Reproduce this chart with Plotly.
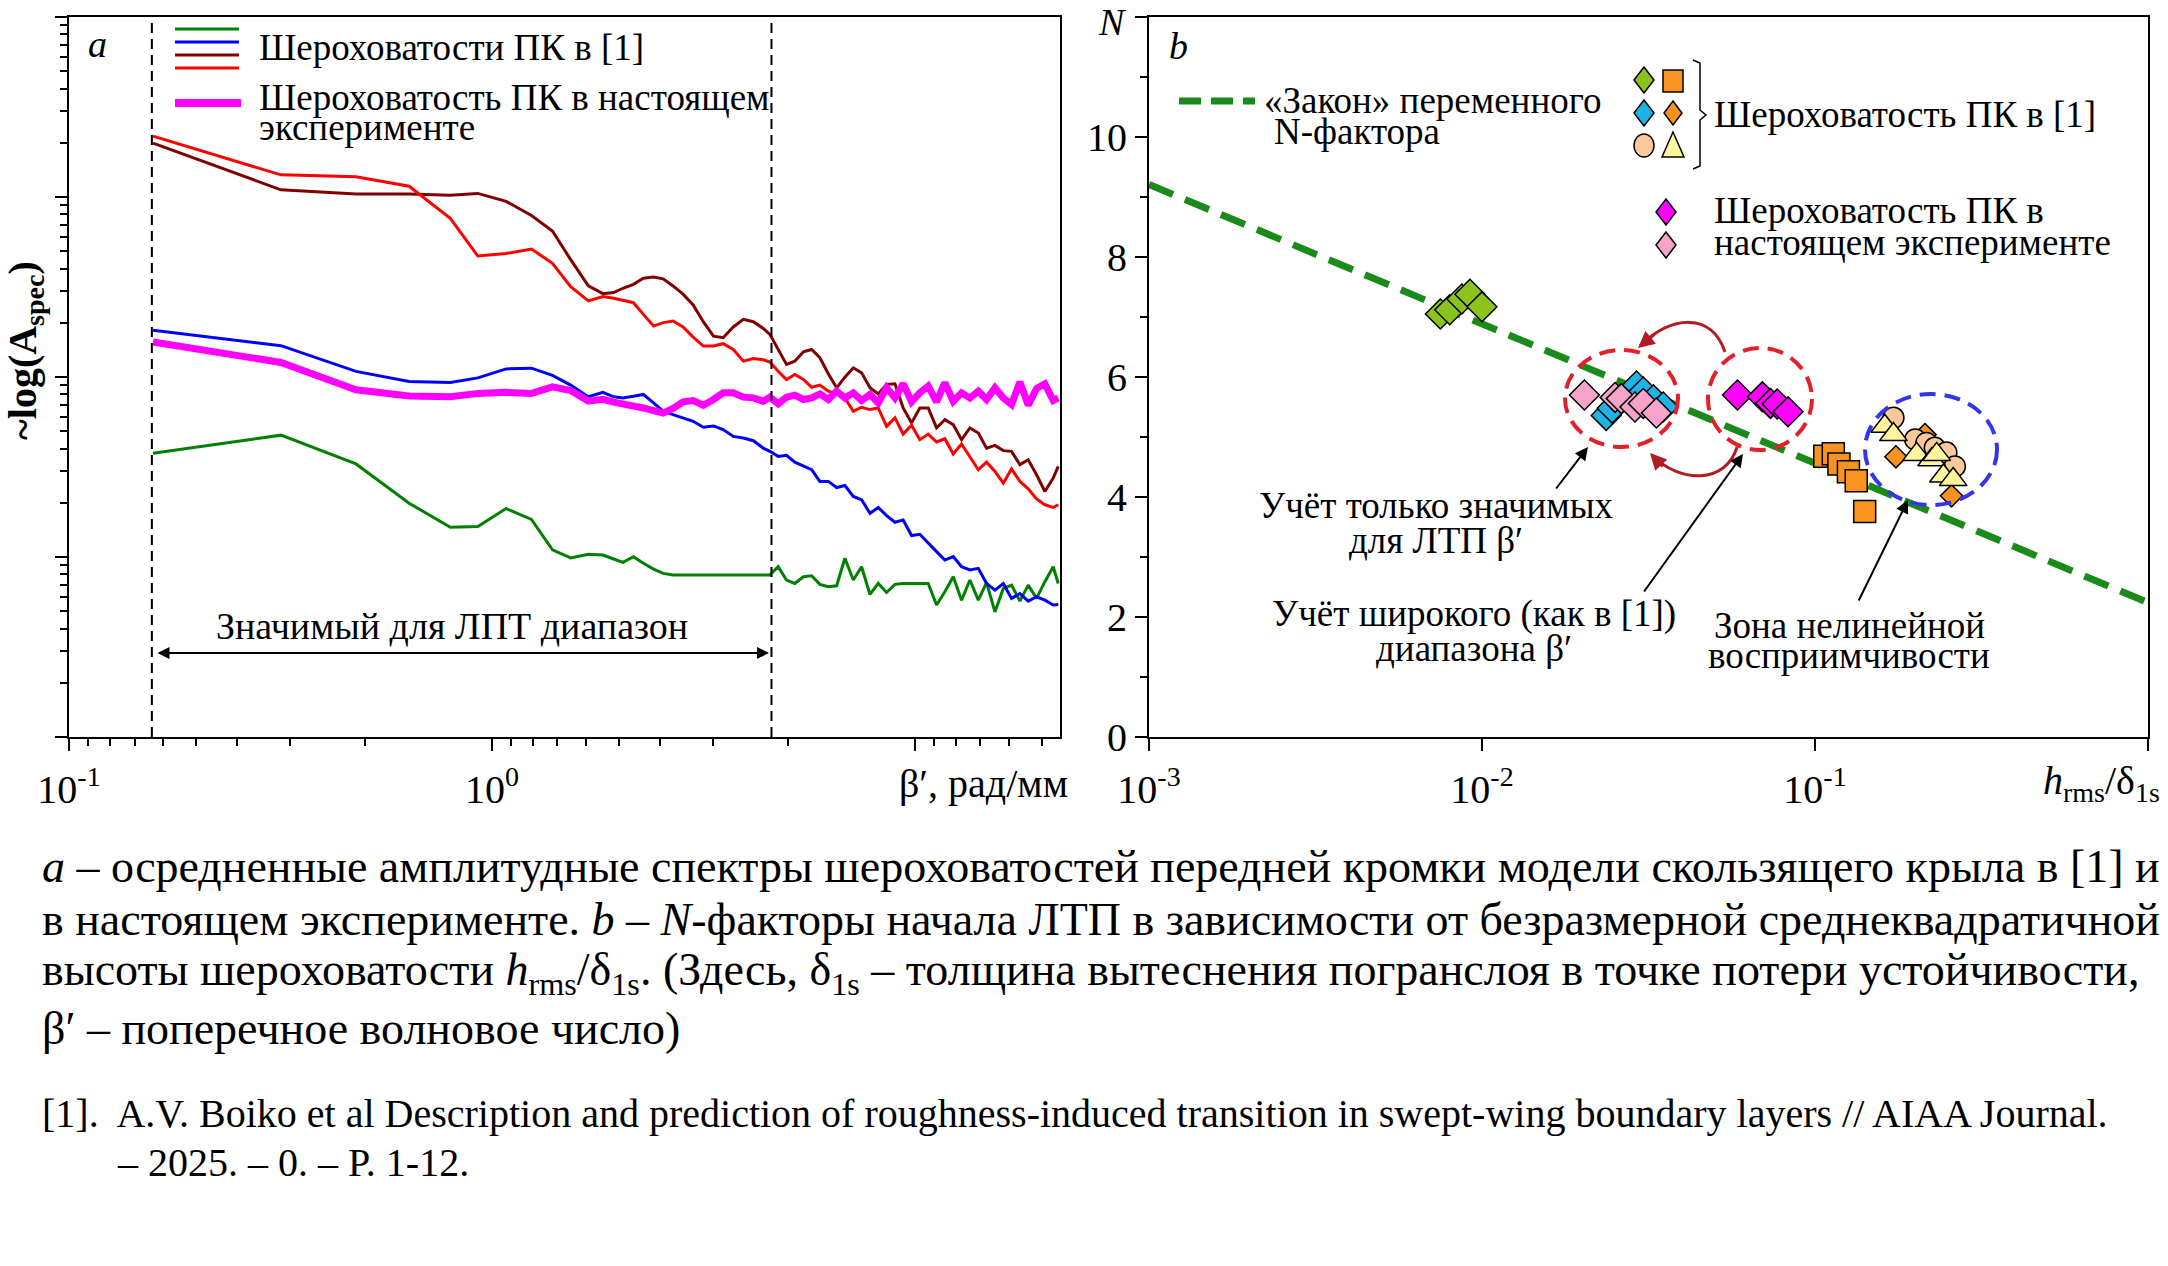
import plotly.graph_objects as go

W, H = 2168, 1266
FONT = "Liberation Serif"

# ---------- panel a: averaged amplitude spectra (lg of amplitude, arb. units) ----------
beta = [0.158, 0.317, 0.477, 0.637, 0.797, 0.926, 1.08, 1.24, 1.39, 1.535, 1.69, 1.83,
        1.94, 2.04, 2.16, 2.28, 2.41, 2.54, 2.68, 2.83, 2.99, 3.16, 3.34, 3.52, 3.72, 3.93,
        4.15, 4.38, 4.54,
        4.75, 4.97, 5.20, 5.45, 5.70, 5.96, 6.24, 6.53, 6.83, 7.15, 7.48, 7.83, 8.19, 8.57,
        8.97, 9.38, 9.82, 10.27, 10.75, 11.25, 11.77, 12.32, 12.89, 13.49, 14.12, 14.77,
        15.46, 16.18, 16.92, 17.71, 18.53, 19.39, 20.29, 21.23, 21.82]

lg_green = [1.577, 1.677, 1.517, 1.299, 1.165, 1.169, 1.269, 1.209, 1.040, 0.995, 1.015, 1.011,
            0.989, 0.970, 1.002, 0.965, 0.933, 0.909, 0.900, 0.900, 0.900, 0.900, 0.900, 0.900,
            0.900, 0.900, 0.900, 0.900, 0.900,
            0.946, 0.872, 0.853, 0.890, 0.896, 0.848, 0.835, 0.840, 0.993, 0.872, 0.946, 0.792,
            0.853, 0.803, 0.848, 0.853, 0.853, 0.853, 0.853, 0.733, 0.807, 0.890, 0.760, 0.872,
            0.760, 0.858, 0.695, 0.825, 0.844, 0.755, 0.844, 0.770, 0.863, 0.946, 0.853]

lg_blue = [2.260, 2.174, 2.031, 1.975, 1.970, 1.995, 2.045, 2.049, 2.009, 1.955, 1.890, 1.915,
           1.890, 1.884, 1.893, 1.903, 1.856, 1.810, 1.791, 1.773, 1.754, 1.721, 1.728, 1.708,
           1.670, 1.661, 1.646, 1.605, 1.587,
           1.559, 1.565, 1.527, 1.507, 1.485, 1.420, 1.420, 1.386, 1.397, 1.336, 1.318, 1.243,
           1.275, 1.230, 1.193, 1.206, 1.119, 1.126, 1.076, 1.030, 0.983, 1.002, 0.946, 0.928,
           0.937, 0.853, 0.816, 0.853, 0.770, 0.797, 0.755, 0.779, 0.760, 0.733, 0.736]

lg_maroon = [3.299, 3.040, 3.016, 3.016, 3.010, 3.020, 2.976, 2.897, 2.811, 2.652, 2.506, 2.463,
             2.469, 2.493, 2.515, 2.549, 2.556, 2.545, 2.506, 2.460, 2.400, 2.307, 2.227, 2.218,
             2.278, 2.320, 2.307, 2.270, 2.237,
             2.153, 2.070, 2.088, 2.140, 2.153, 2.107, 2.018, 1.940, 1.999, 2.051, 2.023, 1.940,
             1.906, 1.958, 1.962, 1.828, 1.745, 1.828, 1.828, 1.717, 1.763, 1.735, 1.652, 1.717,
             1.689, 1.605, 1.620, 1.591, 1.587, 1.513, 1.540, 1.457, 1.364, 1.438, 1.503]

lg_red = [3.338, 3.123, 3.113, 3.060, 2.881, 2.672, 2.686, 2.711, 2.632, 2.502, 2.423, 2.447,
          2.437, 2.426, 2.413, 2.348, 2.283, 2.302, 2.311, 2.278, 2.222, 2.172, 2.172, 2.185,
          2.153, 2.088, 2.103, 2.096, 2.083,
          2.032, 1.986, 2.014, 1.986, 1.943, 1.955, 1.921, 1.906, 1.884, 1.810, 1.832, 1.819,
          1.828, 1.726, 1.773, 1.683, 1.732, 1.652, 1.683, 1.639, 1.657, 1.572, 1.628, 1.559,
          1.485, 1.527, 1.475, 1.410, 1.490, 1.420, 1.379, 1.323, 1.290, 1.275, 1.290]

lg_magenta = [2.194, 2.081, 1.929, 1.894, 1.890, 1.909, 1.915, 1.909, 1.945, 1.925, 1.866, 1.876,
              1.860, 1.852, 1.843, 1.828, 1.813, 1.800, 1.825, 1.862, 1.869, 1.843, 1.875, 1.912,
              1.912, 1.888, 1.884, 1.865, 1.888,
              1.851, 1.888, 1.899, 1.875, 1.884, 1.906, 1.875, 1.921, 1.884, 1.912, 1.869, 1.903,
              1.856, 1.940, 1.884, 1.962, 1.862, 1.912, 1.949, 1.862, 1.968, 1.865, 1.912, 1.884,
              1.921, 1.875, 1.940, 1.884, 1.847, 1.973, 1.843, 1.936, 1.962, 1.869, 1.884]

band_edges = [0.157, 4.58]   # significant range for LTT

# ---------- panel b: N-factor vs h_rms/delta_1s ----------
law_h = [0.001, 1.0]
law_n = [9.21, 2.24]

green_h = [0.0075, 0.0080, 0.0087, 0.0092, 0.0100]
green_n = [7.05, 7.12, 7.30, 7.38, 7.17]
cyan_h = [0.0236, 0.0246, 0.0291, 0.0305, 0.0327, 0.0350]
cyan_n = [5.36, 5.48, 5.85, 5.75, 5.62, 5.50]
pink_h = [0.0203, 0.0251, 0.0262, 0.0288, 0.0305, 0.0334]
pink_n = [5.70, 5.66, 5.64, 5.50, 5.56, 5.40]
magenta_h = [0.0585, 0.0695, 0.0735, 0.0770, 0.0830]
magenta_n = [5.70, 5.67, 5.56, 5.55, 5.42]
square_h = [0.107, 0.1135, 0.118, 0.126, 0.133, 0.141]
square_n = [4.68, 4.72, 4.55, 4.42, 4.27, 3.76]
odiam_h = [0.175, 0.214, 0.257]
odiam_n = [4.67, 5.04, 4.02]
circle_h = [0.172, 0.200, 0.216, 0.229, 0.248, 0.263]
circle_n = [5.32, 4.96, 4.90, 4.82, 4.74, 4.51]
tri_h = [0.162, 0.172, 0.202, 0.224, 0.232, 0.243, 0.260]
tri_n = [5.18, 5.04, 4.71, 4.62, 4.71, 4.35, 4.29]

C_GREEN = "#008000"
C_BLUE = "#0000ff"
C_MAROON = "#800000"
C_RED = "#ff0000"
C_MAG = "#ff00ff"


def px(x):
    return x / W


def py(y):
    return 1 - y / H


fig = go.Figure()

amp = lambda lst: [10 ** v for v in lst]
for lg, col in [(lg_green, C_GREEN), (lg_blue, C_BLUE), (lg_maroon, C_MAROON), (lg_red, C_RED)]:
    fig.add_trace(go.Scatter(x=beta, y=amp(lg), mode="lines", line=dict(color=col, width=3),
                             xaxis="x", yaxis="y", showlegend=False, hoverinfo="skip"))
fig.add_trace(go.Scatter(x=beta, y=amp(lg_magenta), mode="lines", line=dict(color=C_MAG, width=7),
                         xaxis="x", yaxis="y", showlegend=False, hoverinfo="skip"))

fig.add_trace(go.Scatter(x=law_h, y=law_n, mode="lines",
                         line=dict(color="#1a8a1a", width=7, dash="26px,13px"),
                         xaxis="x2", yaxis="y2", showlegend=False, hoverinfo="skip"))


def pts(xs, ys, symbol, color, size):
    fig.add_trace(go.Scatter(x=xs, y=ys, mode="markers", xaxis="x2", yaxis="y2",
                             marker=dict(symbol=symbol, color=color, size=size,
                                         line=dict(color="black", width=1.5)),
                             showlegend=False, hoverinfo="skip"))


pts(green_h, green_n, "diamond", "#8cc21c", 23)
pts(cyan_h, cyan_n, "diamond", "#1fb4e6", 23)
pts(pink_h, pink_n, "diamond", "#f5a3cb", 23)
pts(magenta_h, magenta_n, "diamond", C_MAG, 23)
pts(square_h, square_n, "square", "#f7931e", 22)
pts(odiam_h, odiam_n, "diamond", "#f7931e", 17)
pts(circle_h, circle_n, "circle", "#f9c99b", 21)
pts(tri_h, tri_n, "triangle-up", "#fff59a", 24)

# the original draws the beta-axis minor ticks mirrored inside each decade
minor_a = [10 ** (e + 1) / k for e in (-1, 0, 1) for k in range(2, 10)]
minor_ay = [k * 10 ** e for e in (0, 1, 2, 3) for k in range(2, 10)]

tickfont = dict(family=FONT, size=40, color="black")
axis_common = dict(showline=True, linecolor="black", linewidth=2, mirror=True,
                   ticks="outside", ticklen=12, tickwidth=2, tickcolor="black",
                   showgrid=False, zeroline=False, tickfont=tickfont, fixedrange=True,
                   automargin=False)

ydom = [py(737), py(17)]
fig.update_layout(
    width=W, height=H, autosize=False,
    margin=dict(l=0, r=0, t=0, b=0, pad=0),
    paper_bgcolor="white", plot_bgcolor="white",
    font=dict(family=FONT, color="black"),
    xaxis=dict(type="log", range=[-1, 1.343], domain=[px(69), px(1060)], anchor="y",
               tickvals=[0.1, 1, 10], ticktext=["10<sup>-1</sup>", "10<sup>0</sup>", ""],
               ticklabelstandoff=4,
               minor=dict(tickvals=minor_a, ticks="outside", ticklen=7, tickwidth=1.5,
                          tickcolor="black"), **axis_common),
    yaxis=dict(type="log", range=[0, 4], domain=ydom, anchor="x",
               tickvals=[1, 10, 100, 1000, 10000], showticklabels=False,
               minor=dict(tickvals=minor_ay, ticks="outside", ticklen=7, tickwidth=1.5,
                          tickcolor="black"), **axis_common),
    xaxis2=dict(type="log", range=[-3, 0], domain=[px(1149), px(2148)], anchor="y2",
                tickvals=[0.001, 0.01, 0.1, 1],
                ticktext=["10<sup>-3</sup>", "10<sup>-2</sup>", "10<sup>-1</sup>", ""],
                ticklabelstandoff=4, **axis_common),
    yaxis2=dict(range=[0, 12], domain=ydom, anchor="x2",
                tickvals=[0, 2, 4, 6, 8, 10, 12], ticktext=["0", "2", "4", "6", "8", "10", ""],
                minor=dict(tickvals=[1, 3, 5, 7, 9, 11], ticks="outside", ticklen=7,
                           tickwidth=1.5, tickcolor="black"), **axis_common),
)

shapes = []
annotations = []


def text(x, y, s, size=37, anchor="left", angle=0, yanchor="middle"):
    annotations.append(dict(x=px(x), y=py(y), xref="paper", yref="paper", text=s,
                            showarrow=False, xanchor=anchor, yanchor=yanchor, textangle=angle,
                            font=dict(family=FONT, size=size, color="black")))


def arrow(hx, hy, tx, ty, color="black", width=2, head=2, size=1.3, side="end"):
    annotations.append(dict(x=px(hx), y=py(hy), xref="paper", yref="paper",
                            ax=tx - hx, ay=ty - hy, text="", showarrow=True,
                            arrowhead=head, arrowsize=size, arrowwidth=width,
                            arrowcolor=color, arrowside=side, startarrowhead=head,
                            startarrowsize=size))


def hline(x0, x1, y, color, width, dash="solid"):
    shapes.append(dict(type="line", xref="paper", yref="paper", x0=px(x0), x1=px(x1),
                       y0=py(y), y1=py(y), line=dict(color=color, width=width, dash=dash)))


def path(points, color, width, fill=None, close=False, dash="solid"):
    d = "M " + " L ".join(f"{px(x):.5f},{py(y):.5f}" for x, y in points)
    if close:
        d += " Z"
    shapes.append(dict(type="path", xref="paper", yref="paper", path=d,
                       fillcolor=fill or "rgba(0,0,0,0)",
                       line=dict(color=color, width=width, dash=dash)))


def curve(p0, c1, c2, p1, color, width):
    f = lambda p: f"{px(p[0]):.5f},{py(p[1]):.5f}"
    shapes.append(dict(type="path", xref="paper", yref="paper",
                       path=f"M {f(p0)} C {f(c1)} {f(c2)} {f(p1)}",
                       line=dict(color=color, width=width)))


def ellipse(x0, x1, y0, y1, color):
    shapes.append(dict(type="circle", xref="paper", yref="paper", x0=px(x0), x1=px(x1),
                       y0=py(y1), y1=py(y0), line=dict(color=color, width=4, dash="16px,9px")))


# ---- panel a decorations ----
for b in band_edges:
    shapes.append(dict(type="line", xref="x", yref="y domain", x0=b, x1=b, y0=0, y1=1,
                       line=dict(color="black", width=2, dash="10px,6px")))

hline(175, 239, 29, C_GREEN, 3)
hline(175, 239, 42, C_BLUE, 3)
hline(175, 239, 55, C_MAROON, 3)
hline(175, 239, 68, C_RED, 3)
hline(175, 241, 103, C_MAG, 8)
text(257, 47, "Шероховатости ПК в [1]")
text(257, 97, "Шероховатость ПК в настоящем")
text(257, 127, "эксперименте")
text(97, 44, "<i>a</i>", 38, anchor="center")
text(452, 626, "Значимый для ЛПТ диапазон", 38, anchor="center")
arrow(769, 653, 156, 653, side="end+start", size=1.2)
text(25, 351, "<b>~log(A<sub>spec</sub>)</b>", 40, anchor="center", angle=-90)
text(1070, 783, "β′, рад/мм", 40, anchor="right")

# ---- panel b decorations ----
text(1112, 22, "<i>N</i>", 38, anchor="center")
text(1178, 46, "<i>b</i>", 38, anchor="center")
text(2162, 783, "<i>h</i><sub>rms</sub>/δ<sub>1s</sub>", 40, anchor="right")

hline(1179, 1255, 101, "#1a8a1a", 7, dash="22px,10px")
text(1262, 100, "«Закон» переменного")
text(1272, 132, "N-фактора")


def diamond(cx, cy, w, h, fill):
    path([(cx, cy - h), (cx + w, cy), (cx, cy + h), (cx - w, cy)], "black", 1.5, fill, True)


diamond(1644, 80, 10, 13, "#8cc21c")
shapes.append(dict(type="rect", xref="paper", yref="paper", x0=px(1663), x1=px(1683),
                   y0=py(92), y1=py(70), fillcolor="#f7931e", line=dict(color="black", width=1.5)))
diamond(1644, 113, 10, 13, "#1fb4e6")
diamond(1673, 113, 9, 12, "#f7931e")
shapes.append(dict(type="circle", xref="paper", yref="paper", x0=px(1634), x1=px(1654),
                   y0=py(157), y1=py(134), fillcolor="#f9c99b", line=dict(color="black", width=1.5)))
path([(1673, 132), (1684, 157), (1662, 157)], "black", 1.5, "#fff59a", True)
path([(1693, 60), (1700, 63), (1700, 110), (1706, 115), (1700, 120), (1700, 166), (1693, 169)],
     "black", 1.5)
text(1712, 115, "Шероховатость ПК в [1]")
diamond(1666, 212, 10, 13, C_MAG)
diamond(1666, 245, 10, 13, "#f5a3cb")
text(1712, 210, "Шероховатость ПК в")
text(1712, 242, "настоящем эксперименте")

ellipse(1565, 1678, 350, 447, "#e3202a")
ellipse(1708, 1812, 348, 450, "#e3202a")
ellipse(1865, 1997, 394, 505, "#3535e8")

curve((1725, 352), (1712, 312), (1672, 315), (1640, 346), "#b01c22", 3)
arrow(1638, 348, 1656, 333, color="#b01c22", width=3, size=1.1)
curve((1737, 447), (1726, 484), (1680, 484), (1652, 455), "#b01c22", 3)
arrow(1650, 453, 1664, 468, color="#b01c22", width=3, size=1.1)

text(1436, 506, "Учёт только значимых", anchor="center")
text(1436, 540, "для ЛТП β′", anchor="center")
arrow(1588, 447, 1555, 490)
text(1474, 614, "Учёт широкого (как в [1])", anchor="center")
text(1474, 648, "диапазона β′", anchor="center")
arrow(1743, 454, 1643, 593)
text(1849, 625, "Зона нелинейной", anchor="center")
text(1849, 655, "восприимчивости", anchor="center")
arrow(1908, 500, 1858, 602)

# ---- caption ----
cap = 46
text(40, 866, "<i>a</i> – осредненные амплитудные спектры шероховатостей передней кромки "
              "модели скользящего крыла в [1] и", cap)
text(40, 919, "в настоящем эксперименте. <i>b</i> – <i>N</i>-факторы начала ЛТП в зависимости "
              "от безразмерной среднеквадратичной", cap)
text(40, 973, "высоты шероховатости <i>h</i><sub>rms</sub>/δ<sub>1s</sub>. (Здесь, "
              "δ<sub>1s</sub> – толщина вытеснения погранслоя в точке потери устойчивости,", cap)
text(40, 1028, "β′ – поперечное волновое число)", cap)
text(40, 1113, "[1].  A.V. Boiko et al Description and prediction of roughness-induced transition "
               "in swept-wing boundary layers // AIAA Journal.", 40)
text(115, 1162, "– 2025. – 0. – P. 1-12.", 40)

fig.update_layout(shapes=shapes, annotations=annotations)

fig.write_html("out.html", config={"displayModeBar": False},
               post_script="document.body.style.margin='0';document.body.style.overflow='hidden';")
